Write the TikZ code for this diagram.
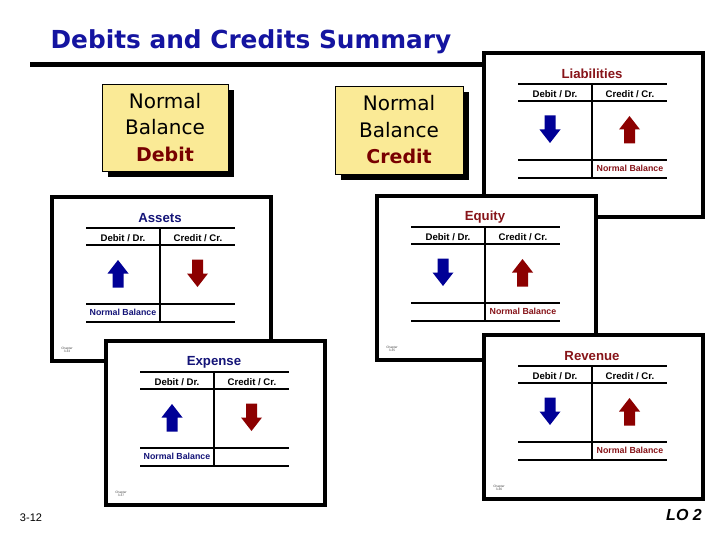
\documentclass[tikz,border=0pt]{standalone}
\usepackage{fontspec}
\setmainfont{Liberation Sans}
\newfontfamily\dejavu{DejaVu Sans}
\newfontfamily\lserif{Liberation Serif}
\usetikzlibrary{shadows}
\definecolor{titleblue}{RGB}{20,20,160}
\definecolor{navyc}{RGB}{20,20,120}
\definecolor{redc}{RGB}{135,20,25}
\definecolor{darkredtxt}{RGB}{120,0,0}
\definecolor{arrblue}{RGB}{0,0,150}
\definecolor{arrred}{RGB}{140,0,0}
\definecolor{boxyellow}{RGB}{250,234,150}
\tikzset{
  cardborder/.style={draw=black,line width=3.6pt,fill=white},
  tline/.style={line width=1.8pt},
  tvert/.style={line width=2.6pt},
  cardtitle/.style={font=\fontsize{13.2}{14}\selectfont\bfseries,inner sep=0pt},
  hdr/.style={font=\fontsize{9.6}{11}\selectfont\bfseries,inner sep=0pt},
  nbtext/.style={font=\fontsize{8.8}{10}\selectfont\bfseries,inner sep=0pt},
  chap/.style={font=\fontsize{3.2}{3.6}\selectfont,align=center,text=black!70,inner sep=0pt},
  nbbox/.style={draw=black,line width=0.8pt,fill=boxyellow,inner sep=0pt,
    align=center,font=\dejavu\fontsize{20}{26.5}\selectfont,
    drop shadow={shadow xshift=6pt,shadow yshift=-6pt,opacity=1,fill=black}},
}
\newcommand\uparr[3]{\fill[#3] (#1-5.5,#2+14) -- (#1-5.5,#2) -- (#1-10.5,#2) -- (#1,#2-13.5) -- (#1+10.5,#2) -- (#1+5.5,#2) -- (#1+5.5,#2+14) -- cycle;}
\newcommand\downarr[3]{\fill[#3] (#1-5.5,#2-14) -- (#1-5.5,#2) -- (#1-10.5,#2) -- (#1,#2+13.5) -- (#1+10.5,#2) -- (#1+5.5,#2) -- (#1+5.5,#2-14) -- cycle;}
% #1 name, #2 x, #3 y, #4 title, #5 colour, #6 debit arrow, #7 credit arrow, #8 NB x, #9 chapter
\newcommand\tcard[9]{%
\begin{scope}[shift={(#2,#3)}]
  \draw[cardborder] (0,0) rectangle (219,164);
  \node[cardtitle,text=#5] (#1-title) at (108,21) {#4};
  \draw[tline] (34,31) -- (183,31);
  \draw[tline] (34,48) -- (183,48);
  \draw[tline] (34,107) -- (183,107);
  \draw[tline] (34,125) -- (183,125);
  \draw[tvert] (108,31) -- (108,125);
  \node[hdr] (#1-dr) at (71,41) {Debit / Dr.};
  \node[hdr] (#1-cr) at (146,41) {Credit / Cr.};
  #6{66}{76.5}{arrblue}
  #7{145.5}{76.5}{arrred}
  \node[nbtext,text=#5] (#1-nb) at (#8,115.5) {Normal Balance};
  \if\relax\detokenize{#9}\relax\else
  \node[chap] (#1-chap) at (15,153) {Chapter\\#9};
  \fi
\end{scope}}
\begin{document}
\begin{tikzpicture}[x=1pt,y=-1pt]
\useasboundingbox[fill=white] (0,0) rectangle (720,540);
% title
\node[font=\dejavu\bfseries\fontsize{24.8}{28}\selectfont,text=titleblue,anchor=base,inner sep=0pt] (title) at (251,49) {Debits and Credits Summary};
\coordinate (barL) at (30,65);
\coordinate (barR) at (486,65);
\draw[line width=5pt] (barL) -- (barR);
% normal balance boxes
\node[nbbox,minimum width=126pt,minimum height=87pt] (boxdebit) at (165,127.5)
  {Normal\\Balance\\{\fontsize{19}{26.5}\selectfont\bfseries\color{darkredtxt}Debit}};
\node[nbbox,minimum width=128pt,minimum height=88pt] (boxcredit) at (399,130)
  {Normal\\Balance\\{\fontsize{19}{26.5}\selectfont\bfseries\color{darkredtxt}Credit}};
% cards
\tcard{liab}{484}{53}{Liabilities}{redc}{\downarr}{\uparr}{146}{}
\tcard{equity}{377}{196}{Equity}{redc}{\downarr}{\uparr}{146}{3-35}
\tcard{revenue}{484}{335}{Revenue}{redc}{\downarr}{\uparr}{146}{3-36}
\tcard{assets}{52}{197}{Assets}{navyc}{\uparr}{\downarr}{71}{3-33}
\tcard{expense}{106}{341}{Expense}{navyc}{\uparr}{\downarr}{71}{3-37}
% footer
\node[font=\fontsize{11}{13}\selectfont,inner sep=0pt] (pagenum) at (31,518) {3-12};
\node[font=\fontsize{16}{18}\selectfont\bfseries\itshape,anchor=base east,inner sep=0pt] (lo) at (702,520) {LO 2};
\end{tikzpicture}
\end{document}
